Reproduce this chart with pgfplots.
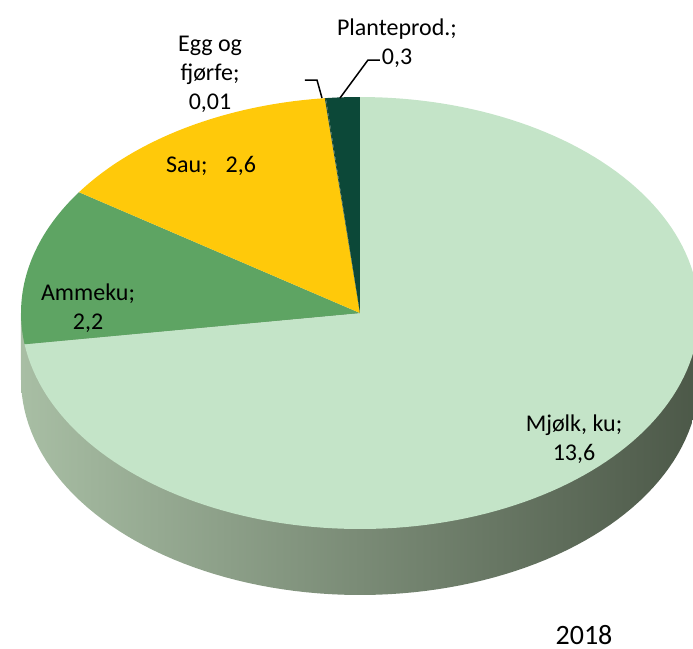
\documentclass[border=0pt]{standalone}
\usepackage{pgfplots}
\pgfplotsset{compat=1.18}
\usepackage{fontspec}
\setmainfont{Carlito}
\definecolor{milk}{RGB}{196,228,200}
\definecolor{amme}{RGB}{94,164,99}
\definecolor{sau}{RGB}{255,201,10}
\definecolor{plante}{RGB}{12,72,56}
\definecolor{egg}{RGB}{40,80,50}
\definecolor{sideL}{RGB}{168,190,164}
\definecolor{sideM}{RGB}{104,120,100}
\definecolor{sideR}{RGB}{76,88,72}
\def\vMilk{13.6}\def\vAmme{2.2}\def\vSau{2.6}\def\vEgg{0.01}\def\vPlante{0.3}
\pgfmathsetmacro\vTot{\vMilk+\vAmme+\vSau+\vEgg+\vPlante}
\pgfmathsetmacro\aA{90}
\pgfmathsetmacro\aB{\aA-360*\vMilk/\vTot}
\pgfmathsetmacro\aC{\aB-360*\vAmme/\vTot}
\pgfmathsetmacro\aD{\aC-360*\vSau/\vTot}
\pgfmathsetmacro\aE{\aD-360*\vEgg/\vTot}
\pgfmathsetmacro\aF{\aE-360*\vPlante/\vTot}
\newcommand\lbl{\fontsize{12}{14.5}\selectfont}
\begin{document}
\begin{tikzpicture}
\begin{axis}[
  scale only axis, width=346.5pt, height=324.5pt,
  xmin=0, xmax=693, ymin=0, ymax=649, y dir=reverse,
  hide axis, clip=true]
% side wall
\addplot[draw=none, left color=sideL, middle color=sideM, right color=sideR] coordinates {(21,313) (699,313) (699,379) (21,379)} -- cycle;
\addplot[draw=none, left color=sideL, middle color=sideM, right color=sideR, domain=180:360, samples=90, variable=\t]
  ({360+339*cos(\t)},{379-216*sin(\t)}) -- cycle;
% top face
\addplot[draw=none, fill=milk, domain=\aB:\aA, samples=150, variable=\t]
  ({360+339*cos(\t)},{313-216*sin(\t)}) -- (axis cs:360,313) -- cycle;
\addplot[draw=none, fill=amme, domain=\aC:\aB, samples=40, variable=\t]
  ({360+339*cos(\t)},{313-216*sin(\t)}) -- (axis cs:360,313) -- cycle;
\addplot[draw=none, fill=sau, domain=\aD:\aC, samples=40, variable=\t]
  ({360+339*cos(\t)},{313-216*sin(\t)}) -- (axis cs:360,313) -- cycle;
\addplot[draw=none, fill=egg, domain=\aE:\aD, samples=2, variable=\t]
  ({360+339*cos(\t)},{313-216*sin(\t)}) -- (axis cs:360,313) -- cycle;
\addplot[draw=none, fill=plante, domain=\aF:\aE, samples=10, variable=\t]
  ({360+339*cos(\t)},{313-216*sin(\t)}) -- (axis cs:360,313) -- cycle;
% leader lines
\addplot[black, line width=0.75pt, mark=none] coordinates {(340,98) (368,60) (380,60)};
\addplot[black, line width=0.75pt, mark=none] coordinates {(322,98) (317,80) (305,80)};
% labels
\node[align=center, font=\lbl] at (axis cs:397,43) {Planteprod.;\\0,3};
\node[align=center, font=\lbl] at (axis cs:210,74) {Egg og\\fjørfe;\\0,01};
\node[align=center, font=\lbl] at (axis cs:211,166) {Sau;\hspace{9pt}2,6};
\node[align=center, font=\lbl] at (axis cs:88,308) {Ammeku;\\2,2};
\node[align=center, font=\lbl] at (axis cs:574,439) {Mjølk, ku;\\13,6};
\node[font=\fontsize{14}{16}\selectfont] at (axis cs:584,635) {2018};
\end{axis}
\pgfresetboundingbox
\useasboundingbox (current axis.south west) rectangle (current axis.north east);
\end{tikzpicture}
\end{document}
